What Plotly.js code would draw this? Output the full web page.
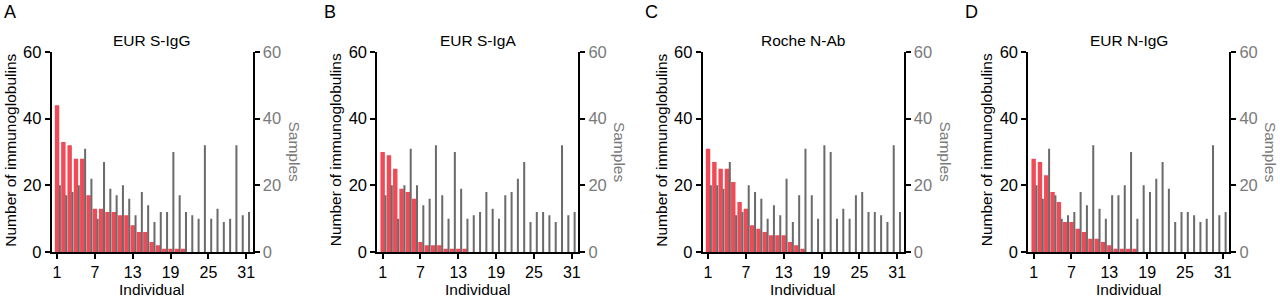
<!DOCTYPE html>
<html>
<head>
<meta charset="utf-8">
<script src="https://cdn.plot.ly/plotly-3.0.1.min.js"></script>
<style>
html,body{margin:0;padding:0;background:#fff;}
#chart{width:1280px;height:298px;}
</style>
</head>
<body>
<div id="chart"></div>
<script>
// ---- data ----
const individuals = [1,2,3,4,5,6,7,8,9,10,11,12,13,14,15,16,17,18,19,20,21,22,23,24,25,26,27,28,29,30,31];
const xTickVals = [1,7,13,19,25,31];
const yTickVals = [0,20,40,60];

const panelLetters = ["A","B","C","D"];
const panelTitles = ["EUR S-IgG","EUR S-IgA","Roche N-Ab","EUR N-IgG"];

// number of immunoglobulins (left axis, red bars)
const sIgG_immunoglobulins = [44,33,32,28,28,17,13,13,12,12,11,11,8,6,6,3,2,1,1,1,1,0,0,0,0,0,0,0,0,0,0];
const sIgA_immunoglobulins = [30,29,25,19,18,16,3,2,2,2,1,1,1,1,0,0,0,0,0,0,0,0,0,0,0,0,0,0,0,0,0];
const rocheN_immunoglobulins = [31,27,25,25,21,15,13,8,7,6,5,5,5,3,2,1,0,0,0,0,0,0,0,0,0,0,0,0,0,0,0];
const nIgG_immunoglobulins = [28,27,23,18,15,9,9,7,6,4,4,3,2,1,1,1,1,0,0,0,0,0,0,0,0,0,0,0,0,0,0];

// samples (right axis, grey bars)
const sIgG_samples = [20,17,18,20,31,22,10,27,19,17,20,16,11,18,14,9,12,12,30,17,12,11,10,32,10,13,9,10,32,11,12];
const sIgA_samples = [17,20,10,20,31,20,14,16,32,17,10,30,19,10,11,12,18,13,10,17,18,22,27,9,12,12,11,9,32,11,12];
const rocheN_samples = [20,20,19,27,11,12,20,18,16,10,14,11,22,9,17,31,17,10,32,30,10,13,10,17,18,12,12,11,9,32,12];
const nIgG_samples = [20,16,31,17,10,11,12,18,14,32,13,10,17,17,20,30,10,20,18,22,27,19,9,12,12,11,9,10,32,11,12];

const immunoglobulinSeries = [sIgG_immunoglobulins, sIgA_immunoglobulins, rocheN_immunoglobulins, nIgG_immunoglobulins];
const sampleSeries = [sIgG_samples, sIgA_samples, rocheN_samples, nIgG_samples];

// ---- layout ----
const W = 1280, H = 298;
const FONT = "Arial, 'Liberation Sans', Helvetica, sans-serif";
const RED = "#ef4a56";
const GREY = "#6b6b6b";
const GREY_TXT = "#7a7a7a";
const panelLeft = [51.7, 377.3, 702.7, 1028.3];
const letterX = [10, 330, 651, 971];
const panelWidth = 200.8;
const plotTop = 52, plotBottom = 252;
const yDomain = [(H - plotBottom) / H, (H - plotTop) / H];
const px = v => v / W;
const py = v => (H - v) / H;

const traces = [];
const layout = {
  width: W, height: H,
  margin: {l: 0, r: 0, t: 0, b: 0},
  paper_bgcolor: "#fff", plot_bgcolor: "rgba(0,0,0,0)",
  showlegend: false,
  font: {family: FONT, color: "#000"},
  annotations: []
};

for (let k = 0; k < 4; k++) {
  const xs = k === 0 ? "" : String(k + 1);
  const yl = String(2 * k + 1), yr = String(2 * k + 2);
  const ylName = yl === "1" ? "y" : "y" + yl;
  const yrName = "y" + yr;
  const xName = "x" + xs;
  const left = panelLeft[k], right = left + panelWidth, cx = (left + right) / 2;

  traces.push({
    type: "bar", x: individuals, y: immunoglobulinSeries[k],
    xaxis: xName, yaxis: ylName,
    width: 0.7, offset: -0.35,
    marker: {color: RED, line: {width: 0}}, hoverinfo: "skip"
  });
  traces.push({
    type: "bar", x: individuals, y: sampleSeries[k],
    xaxis: xName, yaxis: yrName,
    width: 0.32, offset: 0.29,
    marker: {color: GREY, line: {width: 0}}, hoverinfo: "skip"
  });

  layout["xaxis" + xs] = {
    domain: [px(left), px(right)], anchor: ylName,
    range: [0.15, 32], tickvals: xTickVals, ticktext: xTickVals.map(String),
    showline: true, linecolor: "#000", linewidth: 2,
    ticks: "outside", ticklen: 5, tickwidth: 2, tickcolor: "#000",
    showgrid: false, zeroline: false,
    tickfont: {size: 16, color: "#000", family: FONT}
  };
  layout["yaxis" + (yl === "1" ? "" : yl)] = {
    domain: yDomain, anchor: xName,
    range: [0, 60], tickvals: yTickVals,
    showline: true, linecolor: "#000", linewidth: 2,
    ticks: "outside", ticklen: 5, tickwidth: 2, tickcolor: "#000",
    showgrid: false, zeroline: false,
    tickfont: {size: 16.5, color: "#000", family: FONT}
  };
  layout["yaxis" + yr] = {
    overlaying: ylName, side: "right", anchor: xName,
    range: [0, 60], tickvals: yTickVals,
    showline: true, linecolor: "#000", linewidth: 2,
    ticks: "outside", ticklen: 5, tickwidth: 2, tickcolor: "#000",
    showgrid: false, zeroline: false,
    tickfont: {size: 16.5, color: GREY_TXT, family: FONT}
  };

  const ann = layout.annotations;
  ann.push({text: panelLetters[k], xref: "paper", yref: "paper", x: px(letterX[k]), y: py(12),
    xanchor: "center", yanchor: "middle", showarrow: false, font: {size: 18, color: "#000", family: FONT}});
  ann.push({text: panelTitles[k], xref: "paper", yref: "paper", x: px(cx), y: py(41),
    xanchor: "center", yanchor: "middle", showarrow: false, font: {size: 15.5, color: "#000", family: FONT}});
  ann.push({text: "Individual", xref: "paper", yref: "paper", x: px(cx), y: py(289.5),
    xanchor: "center", yanchor: "middle", showarrow: false, font: {size: 15.5, color: "#000", family: FONT}});
  ann.push({text: "Number of immunoglobulins", xref: "paper", yref: "paper", x: px(left - 42), y: py(150),
    xanchor: "center", yanchor: "middle", textangle: -90, showarrow: false, font: {size: 15.5, color: "#000", family: FONT}});
  ann.push({text: "Samples", xref: "paper", yref: "paper", x: px(right + 41), y: py(152),
    xanchor: "center", yanchor: "middle", textangle: 90, showarrow: false, font: {size: 15.5, color: GREY_TXT, family: FONT}});
}

Plotly.newPlot("chart", traces, layout, {staticPlot: true, displayModeBar: false});
</script>
</body>
</html>
